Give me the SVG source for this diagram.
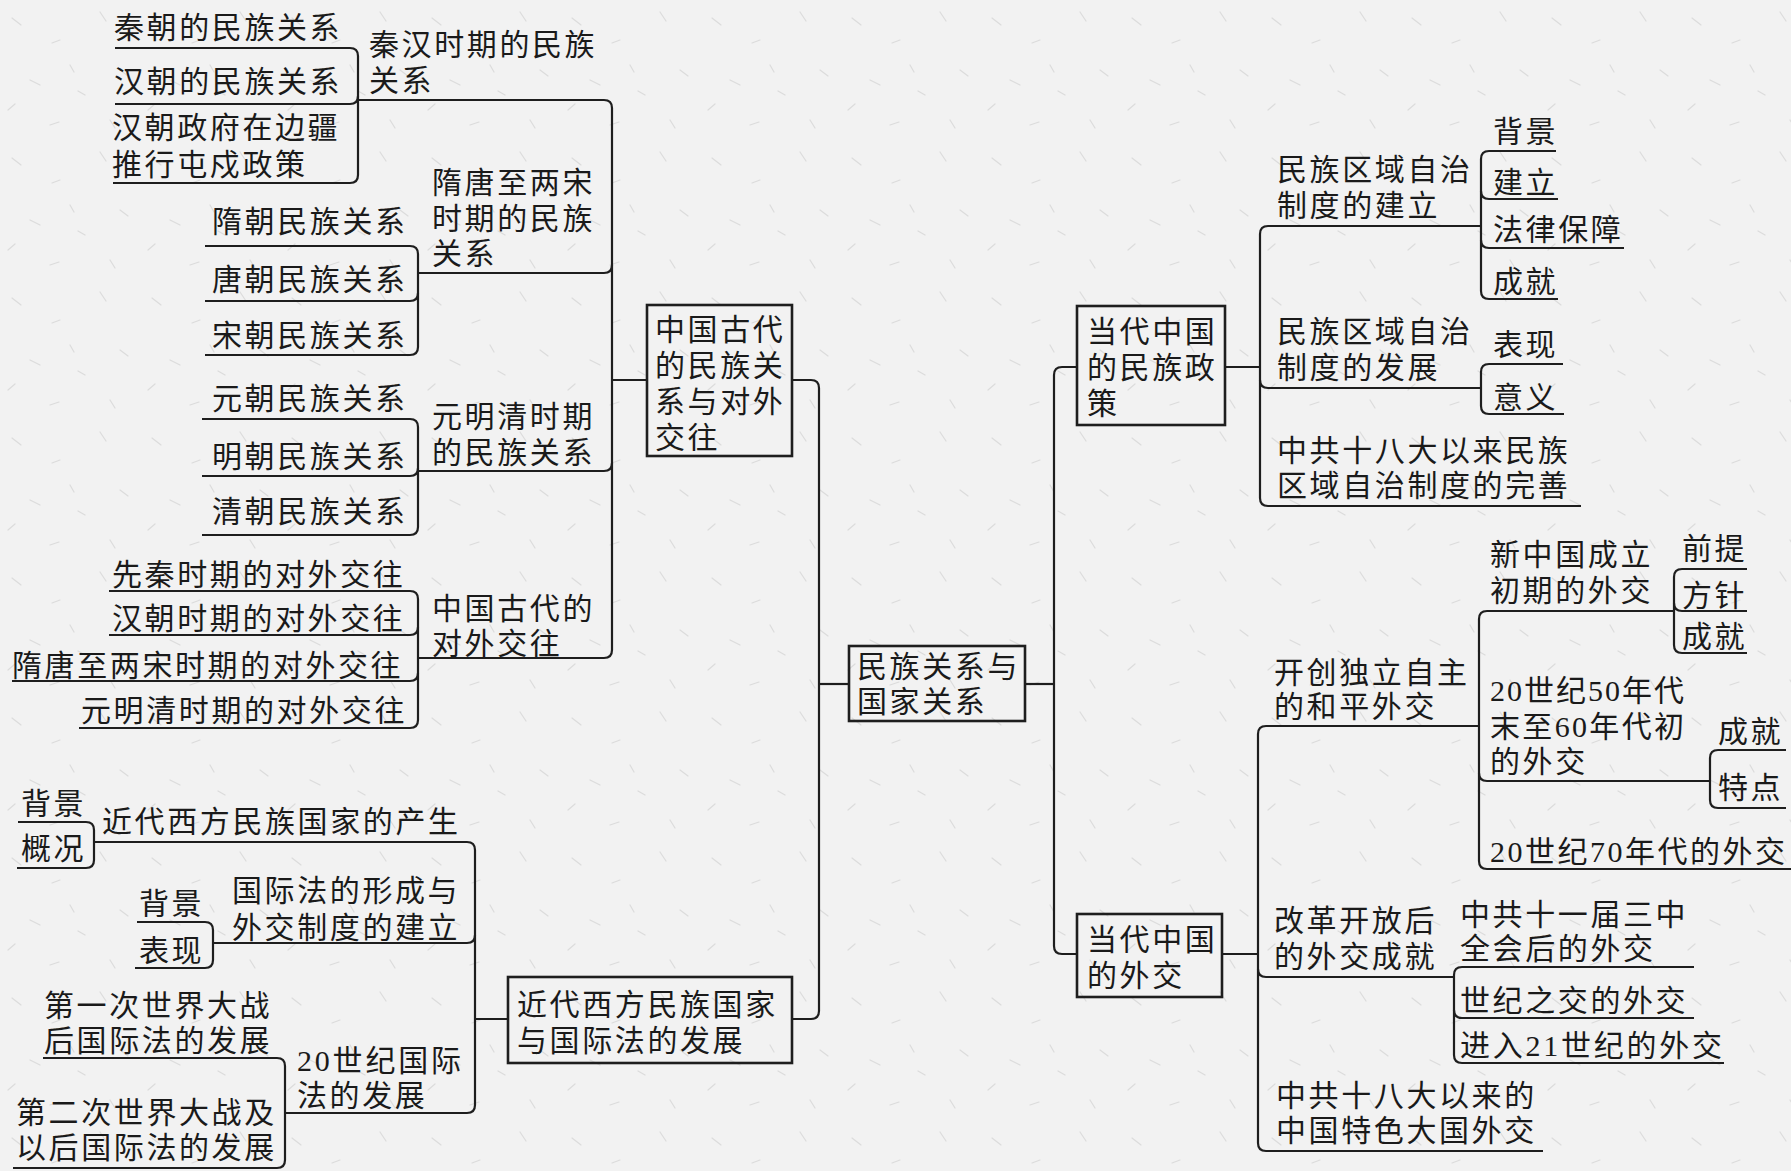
<svg xmlns="http://www.w3.org/2000/svg" width="1791" height="1171" viewBox="0 0 1791 1171">
<defs>
<pattern id="paper" width="140" height="140" patternUnits="userSpaceOnUse">
<rect width="140" height="140" fill="#f2f2f2"/>
<g stroke="#dcdcdc" stroke-width="1.2" stroke-linecap="round">
<path d="M12 18 l9 7 M60 40 l-8 3 M100 12 l6 9 M30 80 l10 5 M85 95 l-7 -4 M120 70 l8 6 M50 125 l9 -3 M110 120 l5 8 M8 110 l7 -6 M70 65 l4 7"/>
</g>
</pattern>
<style>
.t{font-family:'Liberation Serif','Noto Sans CJK SC',serif;font-size:30px;letter-spacing:2.6px;fill:#1a1a1a}
.d{font-family:'Liberation Serif','Noto Sans CJK SC',serif;font-size:30px;fill:#1a1a1a}
.c{fill:none;stroke:#1e1e1e;stroke-width:2.2;stroke-linejoin:round}
.b{fill:none;stroke:#1e1e1e;stroke-width:2.6}
</style>
</defs>
<rect width="1791" height="1171" fill="url(#paper)"/>

<g id="connectors" class="c">
<path d="M849 684 H819"/>
<path d="M792 380 H811 Q819 380 819 388 V1011 Q819 1019 811 1019 H792"/>
<path d="M647 380 H612"/>
<path d="M358 100 H604 Q612 100 612 108 V650 Q612 658 604 658 H418"/>
<path d="M418 273 H604 Q612 273 612 265"/>
<path d="M418 471 H604 Q612 471 612 463"/>
<path d="M115 48 H350 Q358 48 358 56 V175 Q358 183 350 183 H113"/>
<path d="M115 104 H350 Q358 104 358 96"/>
<path d="M205 246 H410 Q418 246 418 254 V347 Q418 355 410 355 H205"/>
<path d="M205 301 H410 Q418 301 418 293"/>
<path d="M202 419 H410 Q418 419 418 427 V527 Q418 535 410 535 H202"/>
<path d="M202 476 H410 Q418 476 418 468"/>
<path d="M109 591 H410 Q418 591 418 599 V720 Q418 728 410 728 H79"/>
<path d="M109 635 H410 Q418 635 418 627"/>
<path d="M12 681 H410 Q418 681 418 673"/>
<path d="M508 1019 H475"/>
<path d="M94 842 H467 Q475 842 475 850 V1105 Q475 1113 467 1113 H285"/>
<path d="M213 943 H467 Q475 943 475 935"/>
<path d="M18 822 H86 Q94 822 94 830 V860 Q94 868 86 868 H17"/>
<path d="M137 922 H205 Q213 922 213 930 V960 Q213 968 205 968 H135"/>
<path d="M43 1058 H277 Q285 1058 285 1066 V1160 Q285 1168 277 1168 H13"/>
<path d="M1025 684 H1054"/>
<path d="M1077 367 H1062 Q1054 367 1054 375 V946 Q1054 954 1062 954 H1077"/>
<path d="M1225 367 H1260"/>
<path d="M1481 226 H1268 Q1260 226 1260 234 V498 Q1260 506 1268 506 H1581"/>
<path d="M1481 388 H1268 Q1260 388 1260 380"/>
<path d="M1556 151 H1489 Q1481 151 1481 159 V291 Q1481 299 1489 299 H1558"/>
<path d="M1558 199 H1489 Q1481 199 1481 191"/>
<path d="M1624 248 H1489 Q1481 248 1481 240"/>
<path d="M1563 364 H1489 Q1481 364 1481 372 V406 Q1481 414 1489 414 H1564"/>
<path d="M1222 954 H1258"/>
<path d="M1479 726 H1266 Q1258 726 1258 734 V1143 Q1258 1151 1266 1151 H1543"/>
<path d="M1454 977 H1266 Q1258 977 1258 969"/>
<path d="M1674 611 H1487 Q1479 611 1479 619 V861 Q1479 869 1487 869 H1791"/>
<path d="M1710 781 H1487 Q1479 781 1479 773"/>
<path d="M1747 569 H1682 Q1674 569 1674 577 V645 Q1674 653 1682 653 H1747"/>
<path d="M1747 611 H1682 Q1674 611 1674 603"/>
<path d="M1786 750 H1718 Q1710 750 1710 758 V800 Q1710 808 1718 808 H1786"/>
<path d="M1694 967 H1462 Q1454 967 1454 975 V1055 Q1454 1063 1462 1063 H1724"/>
<path d="M1694 1018 H1462 Q1454 1018 1454 1010"/>
</g>

<g id="root">
<rect class="b" x="849" y="646" width="176" height="75"/>
<text class="t"><tspan x="857" y="677">民族关系与</tspan><tspan x="857" y="712">国家关系</tspan></text>
</g>

<g id="n-gudai">
<rect class="b" x="647" y="305" width="145" height="151"/>
<text class="t"><tspan x="655" y="340">中国古代</tspan><tspan x="655" y="376">的民族关</tspan><tspan x="655" y="412">系与对外</tspan><tspan x="655" y="448">交往</tspan></text>
</g>
<g id="n-qinhan"><text class="t"><tspan x="369" y="55">秦汉时期的民族</tspan><tspan x="369" y="91">关系</tspan></text></g>
<g id="n-qin"><text class="t" x="114" y="38">秦朝的民族关系</text></g>
<g id="n-han"><text class="t" x="114" y="92">汉朝的民族关系</text></g>
<g id="n-tunshu"><text class="t"><tspan x="112" y="138">汉朝政府在边疆</tspan><tspan x="112" y="175">推行屯戍政策</tspan></text></g>
<g id="n-suitang"><text class="t"><tspan x="432" y="193">隋唐至两宋</tspan><tspan x="432" y="229">时期的民族</tspan><tspan x="432" y="264">关系</tspan></text></g>
<g id="n-sui"><text class="t" x="212" y="232">隋朝民族关系</text></g>
<g id="n-tang"><text class="t" x="212" y="290">唐朝民族关系</text></g>
<g id="n-song"><text class="t" x="212" y="346">宋朝民族关系</text></g>
<g id="n-ymq"><text class="t"><tspan x="432" y="427">元明清时期</tspan><tspan x="432" y="463">的民族关系</tspan></text></g>
<g id="n-yuan"><text class="t" x="212" y="409">元朝民族关系</text></g>
<g id="n-ming"><text class="t" x="212" y="467">明朝民族关系</text></g>
<g id="n-qing"><text class="t" x="212" y="522">清朝民族关系</text></g>
<g id="n-duiwai"><text class="t"><tspan x="432" y="619">中国古代的</tspan><tspan x="432" y="654">对外交往</tspan></text></g>
<g id="n-xianqin"><text class="t" x="112" y="585">先秦时期的对外交往</text></g>
<g id="n-hanshiqi"><text class="t" x="112" y="629">汉朝时期的对外交往</text></g>
<g id="n-suitangsong"><text class="t" x="12" y="676">隋唐至两宋时期的对外交往</text></g>
<g id="n-ymqdw"><text class="t" x="81" y="721">元明清时期的对外交往</text></g>

<g id="n-jindai">
<rect class="b" x="508" y="977" width="284" height="86"/>
<text class="t"><tspan x="517" y="1015">近代西方民族国家</tspan><tspan x="517" y="1051">与国际法的发展</tspan></text>
</g>
<g id="n-chansheng"><text class="t" x="102" y="832">近代西方民族国家的产生</text></g>
<g id="n-beijing1"><text class="t" x="21" y="814">背景</text></g>
<g id="n-gaikuang"><text class="t" x="21" y="859">概况</text></g>
<g id="n-guojifa"><text class="t"><tspan x="232" y="901">国际法的形成与</tspan><tspan x="232" y="938">外交制度的建立</tspan></text></g>
<g id="n-beijing2"><text class="t" x="139" y="914">背景</text></g>
<g id="n-biaoxian1"><text class="t" x="139" y="961">表现</text></g>
<g id="n-20guoji">
<text class="d" x="297" y="1071" textLength="164" lengthAdjust="spacing">20世纪国际</text>
<text class="t" x="297" y="1106">法的发展</text>
</g>
<g id="n-yizhan"><text class="t"><tspan x="44" y="1016">第一次世界大战</tspan><tspan x="44" y="1051">后国际法的发展</tspan></text></g>
<g id="n-erzhan"><text class="t"><tspan x="16" y="1123">第二次世界大战及</tspan><tspan x="16" y="1158">以后国际法的发展</tspan></text></g>

<g id="n-minzu">
<rect class="b" x="1077" y="306" width="148" height="119"/>
<text class="t"><tspan x="1087" y="342">当代中国</tspan><tspan x="1087" y="378">的民族政</tspan><tspan x="1087" y="414">策</tspan></text>
</g>
<g id="n-jianli"><text class="t"><tspan x="1277" y="180">民族区域自治</tspan><tspan x="1277" y="216">制度的建立</tspan></text></g>
<g id="n-bj3"><text class="t" x="1493" y="142">背景</text></g>
<g id="n-jl"><text class="t" x="1493" y="193">建立</text></g>
<g id="n-fl"><text class="t" x="1493" y="240">法律保障</text></g>
<g id="n-cj1"><text class="t" x="1493" y="292">成就</text></g>
<g id="n-fazhan"><text class="t"><tspan x="1277" y="342">民族区域自治</tspan><tspan x="1277" y="378">制度的发展</tspan></text></g>
<g id="n-bx2"><text class="t" x="1493" y="355">表现</text></g>
<g id="n-yy"><text class="t" x="1493" y="408">意义</text></g>
<g id="n-wanshan"><text class="t"><tspan x="1277" y="461">中共十八大以来民族</tspan><tspan x="1277" y="496">区域自治制度的完善</tspan></text></g>

<g id="n-waijiao">
<rect class="b" x="1077" y="914" width="145" height="83"/>
<text class="t"><tspan x="1087" y="950">当代中国</tspan><tspan x="1087" y="986">的外交</tspan></text>
</g>
<g id="n-kaichuang"><text class="t"><tspan x="1274" y="683">开创独立自主</tspan><tspan x="1274" y="717">的和平外交</tspan></text></g>
<g id="n-xinzhongguo"><text class="t"><tspan x="1490" y="565">新中国成立</tspan><tspan x="1490" y="601">初期的外交</tspan></text></g>
<g id="n-qianti"><text class="t" x="1682" y="559">前提</text></g>
<g id="n-fangzhen"><text class="t" x="1682" y="606">方针</text></g>
<g id="n-cj2"><text class="t" x="1682" y="647">成就</text></g>
<g id="n-5060">
<text class="d" x="1490" y="701" textLength="194" lengthAdjust="spacing">20世纪50年代</text>
<text class="d" x="1490" y="737" textLength="194" lengthAdjust="spacing">末至60年代初</text>
<text class="t" x="1490" y="772">的外交</text>
</g>
<g id="n-cj3"><text class="t" x="1718" y="742">成就</text></g>
<g id="n-td"><text class="t" x="1718" y="798">特点</text></g>
<g id="n-70"><text class="d" x="1490" y="862" textLength="295" lengthAdjust="spacing">20世纪70年代的外交</text></g>
<g id="n-gaige"><text class="t"><tspan x="1274" y="931">改革开放后</tspan><tspan x="1274" y="967">的外交成就</tspan></text></g>
<g id="n-sanzhong"><text class="t"><tspan x="1460" y="925">中共十一届三中</tspan><tspan x="1460" y="959">全会后的外交</tspan></text></g>
<g id="n-shiji"><text class="t" x="1460" y="1011">世纪之交的外交</text></g>
<g id="n-21"><text class="d" x="1460" y="1056" textLength="262" lengthAdjust="spacing">进入21世纪的外交</text></g>
<g id="n-daguo"><text class="t"><tspan x="1276" y="1106">中共十八大以来的</tspan><tspan x="1276" y="1141">中国特色大国外交</tspan></text></g>
</svg>
